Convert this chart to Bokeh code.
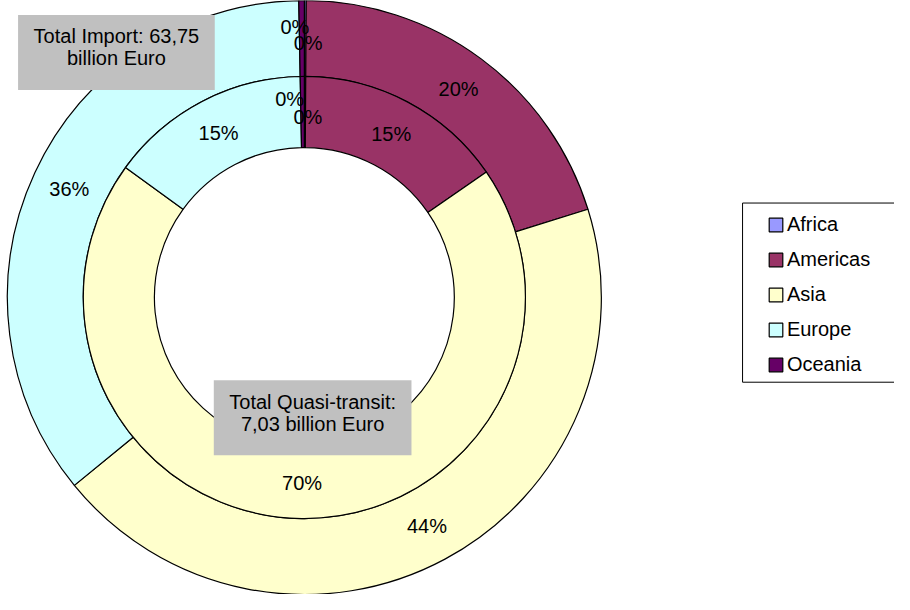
import math
from bokeh.plotting import figure
from bokeh.models import ColumnDataSource, Range1d, Legend, LegendItem
from bokeh.core.properties import value
from bokeh.embed import file_html
from bokeh.resources import INLINE

# ---------------- data ----------------
regions = ["Africa", "Americas", "Asia", "Europe", "Oceania"]
import_share = [0.1, 20.1, 43.9, 35.6, 0.3]     # outer ring (Total Import), %
transit_share = [0.1, 15.3, 69.6, 14.7, 0.3]    # inner ring (Quasi-transit), %
import_title = ["Total Import: 63,75", "billion Euro"]
transit_title = ["Total Quasi-transit:", "7,03 billion Euro"]

# ---------------- style ----------------
colors = ["#9999FF", "#993366", "#FFFFCC", "#CCFFFF", "#660066"]
FONT = "Liberation Sans"
FS = "20px"
# pixel nudges for labels of the tiny slices (collision avoidance)
outer_nudge_x = [3, 0, 0, 0, -7]
outer_nudge_y = [5, 0, 0, 0, -11]
inner_nudge_x = [3, 0, 0, 0, -13]
inner_nudge_y = [5, 0, 0, 0, -13]

W, H = 894, 594
REF_W, REF_H = 910, 610
s = H / REF_H
xspan = W / s
x0 = REF_W / 2 - xspan / 2

CX, CY = 308, REF_H - 305
R_OUT, R_MID, R_IN = 305, 227, 154

p = figure(width=W, height=H, x_range=Range1d(x0, x0 + xspan), y_range=Range1d(0, REF_H),
           output_backend="svg", toolbar_location=None, min_border=0,
           x_axis_type=None, y_axis_type=None, outline_line_color=None)
p.grid.visible = False


def ring_source(shares, r_inner, r_outer, nx, ny):
    starts, ends, lx, ly, txt = [], [], [], [], []
    cum = 0.0
    for v in shares:
        a0 = math.pi / 2 - 2 * math.pi * cum / 100
        a1 = math.pi / 2 - 2 * math.pi * (cum + v) / 100
        mid = (a0 + a1) / 2
        rl = (r_inner + r_outer) / 2
        starts.append(a0)
        ends.append(a1)
        lx.append(CX + rl * math.cos(mid))
        ly.append(CY + rl * math.sin(mid))
        txt.append(f"{round(v):.0f}%")
        cum += v
    return ColumnDataSource(dict(region=regions, color=colors, start=starts, end=ends,
                                 lx=lx, ly=ly, txt=txt, nx=nx, ny=ny))


src_out = ring_source(import_share, R_MID, R_OUT, outer_nudge_x, outer_nudge_y)
src_in = ring_source(transit_share, R_IN, R_MID, inner_nudge_x, inner_nudge_y)

outer = p.annular_wedge(x=CX, y=CY, inner_radius=R_MID, outer_radius=R_OUT,
                        start_angle="start", end_angle="end", direction="clock",
                        fill_color="color", line_color="black", line_width=1.2, source=src_out)
inner = p.annular_wedge(x=CX, y=CY, inner_radius=R_IN, outer_radius=R_MID,
                        start_angle="start", end_angle="end", direction="clock",
                        fill_color="color", line_color="black", line_width=1.2, source=src_in)

for src in (src_out, src_in):
    p.text(x="lx", y="ly", text="txt", x_offset="nx", y_offset="ny", source=src,
           text_align="center", text_baseline="middle", text_font=value(FONT),
           text_font_size=FS, text_color="black")

# title boxes
p.quad(left=[14, 215], right=[216, 418], top=[REF_H - 15, REF_H - 390],
       bottom=[REF_H - 92, REF_H - 467], fill_color="#C0C0C0", line_color=None)
p.text(x=[115, 115], y=[REF_H - 36, REF_H - 59], text=import_title,
       text_align="center", text_baseline="alphabetic", text_font=value(FONT),
       text_font_size=FS, text_color="black")
p.text(x=[316.5, 316.5], y=[REF_H - 412, REF_H - 435], text=transit_title,
       text_align="center", text_baseline="alphabetic", text_font=value(FONT),
       text_font_size=FS, text_color="black")

# legend frame
p.quad(left=[758], right=[920], top=[REF_H - 208], bottom=[REF_H - 392],
       fill_color="white", line_color="black", line_width=1)

items = [LegendItem(label=r, renderers=[outer], index=i) for i, r in enumerate(regions)]
lx = (783.5 - x0) * s
ly = H - (373 * s + 10) - 3
legend = Legend(items=items, location=(lx, ly), orientation="vertical",
                glyph_width=17, glyph_height=17, label_height=20, label_standoff=3,
                spacing=12, padding=0, margin=0, border_line_color=None,
                background_fill_alpha=0, label_text_font=FONT, label_text_font_size=FS,
                label_text_color="black")
p.add_layout(legend, "center")

open("out.html", "w").write(file_html(p, INLINE))
